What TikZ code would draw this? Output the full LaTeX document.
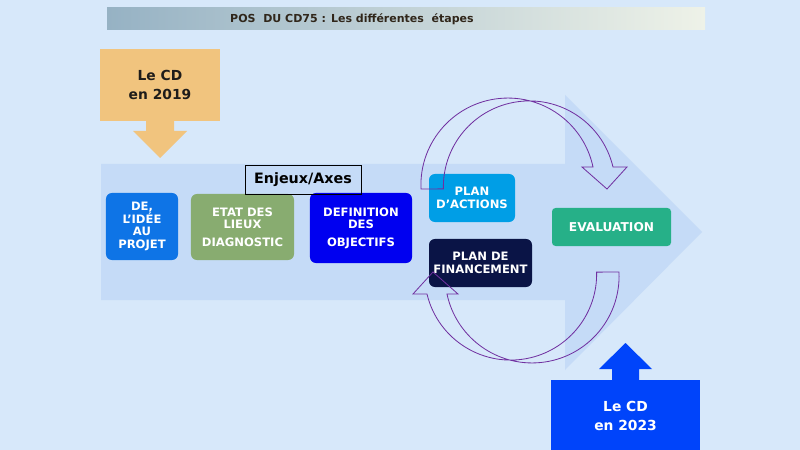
\documentclass[tikz,border=0pt]{standalone}
\usepackage{fontspec}
\setmainfont{DejaVu Sans}
\usepackage{xcolor}
\usetikzlibrary{positioning,calc}
\definecolor{fond}{RGB}{215,232,250}
\definecolor{fleche}{RGB}{197,219,247}
\definecolor{titreg}{RGB}{150,178,196}
\definecolor{titred}{RGB}{238,242,232}
\definecolor{brun}{RGB}{48,38,26}
\definecolor{noir}{RGB}{30,28,26}
\definecolor{orange2019}{RGB}{241,196,126}
\definecolor{bleu2023}{RGB}{0,68,250}
\definecolor{bleuidee}{RGB}{14,116,230}
\definecolor{vertetat}{RGB}{136,172,112}
\definecolor{bleuobj}{RGB}{0,0,240}
\definecolor{bleuact}{RGB}{0,158,230}
\definecolor{marine}{RGB}{10,20,70}
\definecolor{vertevol}{RGB}{38,176,136}
\definecolor{violet}{RGB}{112,48,160}

\begin{document}
\begin{tikzpicture}[
    x=0.03cm, y=-0.03cm,
    every node/.style={font=\bfseries\fontsize{9.9}{10.8}\selectfont, align=center, text=white, inner sep=0pt},
    etape/.style={rounded corners=5pt},
    cdbox/.style={font=\bfseries\fontsize{11.8}{17}\selectfont},
    ronde/.style={draw=violet, line width=0.7pt}
]
% fond
\fill[fond] (0,0) rectangle (800,450);
\useasboundingbox (0,0) rectangle (800,450);

% titre
\shade[left color=titreg, right color=titred] (107,8) rectangle (705,30);
\node[text=brun, font=\bfseries\fontsize{9.4}{11}\selectfont] (titre) at (352,19) {POS\ \ DU CD75 : Les différentes\ \ étapes};

% grande fleche
\fill[fleche] (101,164) -- (565,164) -- (565,95) -- (702,232) -- (565,370) -- (565,300) -- (101,300) -- cycle;

% le CD en 2019
\node[cdbox, fill=orange2019, text=noir, minimum width=3.6cm, minimum height=2.16cm] (cd2019) at (160,85) {Le CD\\en 2019};
\fill[orange2019] (146,121) -- (146,131) -- (133,131) -- (160,158) -- (187,131) -- (174,131) -- (174,121) -- cycle;

% le CD en 2023
\node[cdbox, fill=bleu2023, minimum width=4.47cm, minimum height=2.16cm] (cd2023) at (625.5,416) {Le CD\\en 2023};
\fill[bleu2023] (612,381) -- (612,369) -- (599,369) -- (625.5,343) -- (652,369) -- (639,369) -- (639,381) -- cycle;

% etapes
\node[etape, fill=bleuidee, minimum width=2.16cm, minimum height=2.01cm] (idee) at (142,226.5) {DE,\\L’IDÉE\\AU\\PROJET};
\node[etape, fill=vertetat, minimum width=3.09cm, minimum height=1.98cm] (etat) at (242.5,227) {ETAT DES\\LIEUX\\[4pt]DIAGNOSTIC};
\node[etape, fill=bleuobj, minimum width=3.06cm, minimum height=2.1cm] (objectifs) at (361,228) {DEFINITION\\DES\\[4pt]OBJECTIFS};
\node[draw=black, line width=0.6pt, text=black, font=\bfseries\fontsize{12.2}{13}\selectfont, minimum width=3.48cm, minimum height=0.87cm] (enjeux) at (303,179.5) {Enjeux/Axes};
\node[etape, fill=bleuact, minimum width=2.58cm, minimum height=1.44cm] (actions) at (472,198) {PLAN\\D’ACTIONS};
\node[etape, fill=marine, minimum width=3.09cm, minimum height=1.44cm] (financement) at (480.5,263) {PLAN DE\\FINANCEMENT};
\node[etape, rounded corners=3pt, fill=vertevol, minimum width=3.57cm, minimum height=1.14cm, font=\bfseries\fontsize{10.4}{11}\selectfont] (evaluation) at (611.5,227) {EVALUATION};

% fleches circulaires
\draw[ronde] (421,189) arc[start angle=177.4, end angle=348, radius=87]
    -- (582,167) -- (607,189) -- (627,167) -- (613,167)
    arc[start angle=346.6, end angle=178.7, radius=86] -- cycle;
\draw[ronde, rotate around={180:(520,230.5)}] (421,189) arc[start angle=177.4, end angle=348, radius=87]
    -- (582,167) -- (607,189) -- (627,167) -- (613,167)
    arc[start angle=346.6, end angle=178.7, radius=86] -- cycle;
\end{tikzpicture}
\end{document}
